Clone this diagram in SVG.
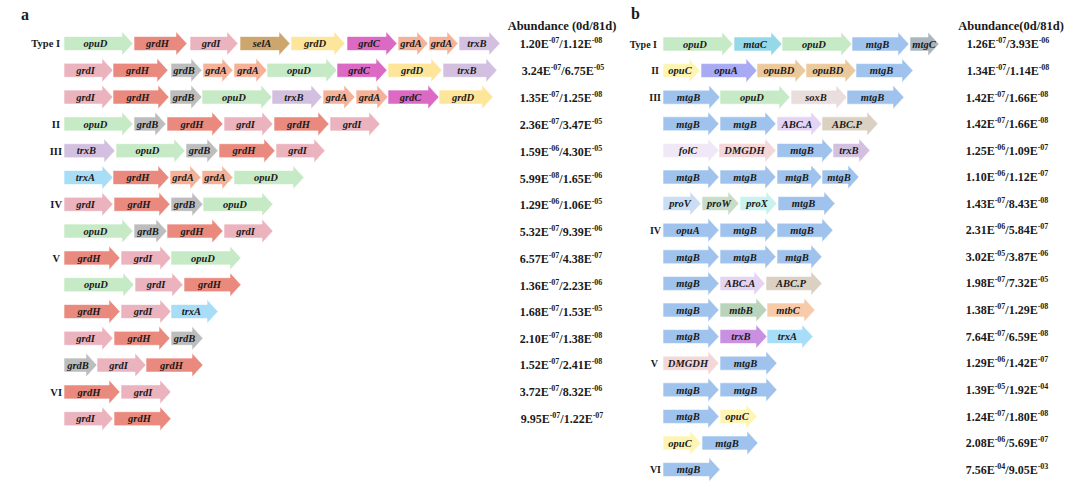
<svg xmlns="http://www.w3.org/2000/svg" width="1080" height="491" viewBox="0 0 1080 491">
<style>
text{font-family:"Liberation Serif","Times New Roman",serif;font-weight:bold;fill:#1a1a1a}
.g path{stroke:#fff;stroke-width:0.6}
.g text{font-style:italic;font-size:10.5px;text-anchor:middle}
.lab{font-size:10.5px;text-anchor:end}
.labb{font-size:10px;text-anchor:end}
.pan{font-size:16px}
.hd{font-size:12.5px;text-anchor:middle}
.v{font-size:12px;text-anchor:middle}
.s{font-size:8px}
.opuD{fill:#c6e9c6}.grdH{fill:#ea8a7e}.grdI{fill:#ebb3be}.selA{fill:#cda66e}.grdD{fill:#fde699}
.grdC{fill:#dc6ac4}.grdA{fill:#f5b299}.trxB{fill:#d3c0e0}.grdB{fill:#bdbdbd}.trxA{fill:#a8ddf8}
.mtaC{fill:#95d8e8}.mtgB{fill:#9fc3ec}.mtgC{fill:#a9b6c0}.opuC{fill:#fef5b4}.opuA{fill:#a8aaf3}
.opuBD{fill:#ecc99a}.soxB{fill:#eadddd}.abca{fill:#e5d3f3}.abcp{fill:#dbd1c2}.folC{fill:#f0e8f7}
.dmgdh{fill:#f3d7d9}.trxBb{fill:#c98fe0}.proV{fill:#c9ddf5}.proW{fill:#c8dcc8}.proX{fill:#c8f2ef}
.mtbB{fill:#bad4bb}.mtbC{fill:#f7caa9}
</style>
<text class="pan" x="21" y="20">a</text>
<text class="pan" x="631" y="19">b</text>
<text class="hd" x="562" y="30">Abundance (0d/81d)</text>
<text class="hd" x="1011" y="30">Abundance(0d/81d)</text>
<g id="labels-a">
<text class="lab" x="60" y="47">Type I</text>
<text class="lab" x="60" y="127.5">II</text>
<text class="lab" x="62" y="154.5">III</text>
<text class="lab" x="62" y="208">IV</text>
<text class="lab" x="60" y="261.5">V</text>
<text class="lab" x="62" y="395.5">VI</text>
</g>
<g id="labels-b">
<text class="labb" x="657" y="47.5">Type I</text>
<text class="labb" x="659" y="74">II</text>
<text class="labb" x="661" y="100.5">III</text>
<text class="labb" x="661" y="233.5">IV</text>
<text class="labb" x="658" y="366.5">V</text>
<text class="labb" x="661" y="473">VI</text>
</g>
<g id="connectors"></g>
<!-- Panel a -->
<g id="a0-1" class="g" transform="translate(64,43.5)"><path class="opuD" d="M0-7H58V-12L69 0L58 12V7H0Z"/><text x="31.5" y="3.7">opuD</text></g>
<g id="a0-2" class="g" transform="translate(134,43.5)"><path class="grdH" d="M0-7H42V-12L53 0L42 12V7H0Z"/><text x="23.5" y="3.7">grdH</text></g>
<g id="a0-3" class="g" transform="translate(190,43.5)"><path class="grdI" d="M0-7H37V-12L48 0L37 12V7H0Z"/><text x="21" y="3.7">grdI</text></g>
<g id="a0-4" class="g" transform="translate(240,43.5)"><path class="selA" d="M0-7H39V-12L50 0L39 12V7H0Z"/><text x="22" y="3.7">selA</text></g>
<g id="a0-5" class="g" transform="translate(291,43.5)"><path class="grdD" d="M0-7H43V-12L54 0L43 12V7H0Z"/><text x="24" y="3.7">grdD</text></g>
<g id="a0-6" class="g" transform="translate(347,43.5)"><path class="grdC" d="M0-7H39V-12L50 0L39 12V7H0Z"/><text x="22" y="3.7">grdC</text></g>
<g id="a0-7" class="g" transform="translate(398,43.5)"><path class="grdA" d="M0-7H19V-12L30 0L19 12V7H0Z"/><text x="13" y="3.7">grdA</text></g>
<g id="a0-8" class="g" transform="translate(429,43.5)"><path class="grdA" d="M0-7H18V-12L29 0L18 12V7H0Z"/><text x="12.5" y="3.7">grdA</text></g>
<g id="a0-9" class="g" transform="translate(459,43.5)"><path class="trxB" d="M0-7H30V-12L41 0L30 12V7H0Z"/><text x="18" y="3.7">trxB</text></g>

<g id="a1-1" class="g" transform="translate(64,70.3)"><path class="grdI" d="M0-7H38V-12L49 0L38 12V7H0Z"/><text x="21.5" y="3.7">grdI</text></g>
<g id="a1-2" class="g" transform="translate(113,70.3)"><path class="grdH" d="M0-7H44V-12L55 0L44 12V7H0Z"/><text x="24.5" y="3.7">grdH</text></g>
<g id="a1-3" class="g" transform="translate(171,70.3)"><path class="grdB" d="M0-7H20V-12L31 0L20 12V7H0Z"/><text x="13" y="3.7">grdB</text></g>
<g id="a1-4" class="g" transform="translate(203,70.3)"><path class="grdA" d="M0-7H19V-12L30 0L19 12V7H0Z"/><text x="13" y="3.7">grdA</text></g>
<g id="a1-5" class="g" transform="translate(234,70.3)"><path class="grdA" d="M0-7H22V-12L33 0L22 12V7H0Z"/><text x="14" y="3.7">grdA</text></g>
<g id="a1-6" class="g" transform="translate(267,70.3)"><path class="opuD" d="M0-7H59V-12L70 0L59 12V7H0Z"/><text x="32" y="3.7">opuD</text></g>
<g id="a1-7" class="g" transform="translate(337,70.3)"><path class="grdC" d="M0-7H39V-12L50 0L39 12V7H0Z"/><text x="22" y="3.7">grdC</text></g>
<g id="a1-8" class="g" transform="translate(388,70.3)"><path class="grdD" d="M0-7H43V-12L54 0L43 12V7H0Z"/><text x="24" y="3.7">grdD</text></g>
<g id="a1-9" class="g" transform="translate(443,70.3)"><path class="trxB" d="M0-7H43V-12L54 0L43 12V7H0Z"/><text x="24" y="3.7">trxB</text></g>

<g id="a2-1" class="g" transform="translate(64,97.1)"><path class="grdI" d="M0-7H38V-12L49 0L38 12V7H0Z"/><text x="21.5" y="3.7">grdI</text></g>
<g id="a2-2" class="g" transform="translate(113,97.1)"><path class="grdH" d="M0-7H45V-12L56 0L45 12V7H0Z"/><text x="25" y="3.7">grdH</text></g>
<g id="a2-3" class="g" transform="translate(170,97.1)"><path class="grdB" d="M0-7H21V-12L32 0L21 12V7H0Z"/><text x="13.5" y="3.7">grdB</text></g>
<g id="a2-4" class="g" transform="translate(202,97.1)"><path class="opuD" d="M0-7H59V-12L70 0L59 12V7H0Z"/><text x="32" y="3.7">opuD</text></g>
<g id="a2-5" class="g" transform="translate(272,97.1)"><path class="trxB" d="M0-7H39V-12L50 0L39 12V7H0Z"/><text x="22" y="3.7">trxB</text></g>
<g id="a2-6" class="g" transform="translate(323,97.1)"><path class="grdA" d="M0-7H21V-12L32 0L21 12V7H0Z"/><text x="13.5" y="3.7">grdA</text></g>
<g id="a2-7" class="g" transform="translate(356,97.1)"><path class="grdA" d="M0-7H21V-12L32 0L21 12V7H0Z"/><text x="13.5" y="3.7">grdA</text></g>
<g id="a2-8" class="g" transform="translate(388,97.1)"><path class="grdC" d="M0-7H40V-12L51 0L40 12V7H0Z"/><text x="22.5" y="3.7">grdC</text></g>
<g id="a2-9" class="g" transform="translate(439,97.1)"><path class="grdD" d="M0-7H43V-12L54 0L43 12V7H0Z"/><text x="24" y="3.7">grdD</text></g>

<g id="a3-1" class="g" transform="translate(64,123.9)"><path class="opuD" d="M0-7H58V-12L69 0L58 12V7H0Z"/><text x="31.5" y="3.7">opuD</text></g>
<g id="a3-2" class="g" transform="translate(134,123.9)"><path class="grdB" d="M0-7H21V-12L32 0L21 12V7H0Z"/><text x="13.5" y="3.7">grdB</text></g>
<g id="a3-3" class="g" transform="translate(167,123.9)"><path class="grdH" d="M0-7H45V-12L56 0L45 12V7H0Z"/><text x="25" y="3.7">grdH</text></g>
<g id="a3-4" class="g" transform="translate(224,123.9)"><path class="grdI" d="M0-7H38V-12L49 0L38 12V7H0Z"/><text x="21.5" y="3.7">grdI</text></g>
<g id="a3-5" class="g" transform="translate(274,123.9)"><path class="grdH" d="M0-7H44V-12L55 0L44 12V7H0Z"/><text x="24.5" y="3.7">grdH</text></g>
<g id="a3-6" class="g" transform="translate(330,123.9)"><path class="grdI" d="M0-7H39V-12L50 0L39 12V7H0Z"/><text x="22" y="3.7">grdI</text></g>

<g id="a4-1" class="g" transform="translate(64,150.7)"><path class="trxB" d="M0-7H40V-12L51 0L40 12V7H0Z"/><text x="22.5" y="3.7">trxB</text></g>
<g id="a4-2" class="g" transform="translate(116,150.7)"><path class="opuD" d="M0-7H58V-12L69 0L58 12V7H0Z"/><text x="31.5" y="3.7">opuD</text></g>
<g id="a4-3" class="g" transform="translate(186,150.7)"><path class="grdB" d="M0-7H21V-12L32 0L21 12V7H0Z"/><text x="13.5" y="3.7">grdB</text></g>
<g id="a4-4" class="g" transform="translate(219,150.7)"><path class="grdH" d="M0-7H45V-12L56 0L45 12V7H0Z"/><text x="25" y="3.7">grdH</text></g>
<g id="a4-5" class="g" transform="translate(276,150.7)"><path class="grdI" d="M0-7H38V-12L49 0L38 12V7H0Z"/><text x="21.5" y="3.7">grdI</text></g>

<g id="a5-1" class="g" transform="translate(64,177.5)"><path class="trxA" d="M0-7H38V-12L49 0L38 12V7H0Z"/><text x="21.5" y="3.7">trxA</text></g>
<g id="a5-2" class="g" transform="translate(113,177.5)"><path class="grdH" d="M0-7H45V-12L56 0L45 12V7H0Z"/><text x="25" y="3.7">grdH</text></g>
<g id="a5-3" class="g" transform="translate(170,177.5)"><path class="grdA" d="M0-7H20V-12L31 0L20 12V7H0Z"/><text x="13" y="3.7">grdA</text></g>
<g id="a5-4" class="g" transform="translate(202,177.5)"><path class="grdA" d="M0-7H20V-12L31 0L20 12V7H0Z"/><text x="13" y="3.7">grdA</text></g>
<g id="a5-5" class="g" transform="translate(234,177.5)"><path class="opuD" d="M0-7H59V-12L70 0L59 12V7H0Z"/><text x="32" y="3.7">opuD</text></g>

<g id="a6-1" class="g" transform="translate(64,204.3)"><path class="grdI" d="M0-7H38V-12L49 0L38 12V7H0Z"/><text x="21.5" y="3.7">grdI</text></g>
<g id="a6-2" class="g" transform="translate(114,204.3)"><path class="grdH" d="M0-7H45V-12L56 0L45 12V7H0Z"/><text x="25" y="3.7">grdH</text></g>
<g id="a6-3" class="g" transform="translate(171,204.3)"><path class="grdB" d="M0-7H21V-12L32 0L21 12V7H0Z"/><text x="13.5" y="3.7">grdB</text></g>
<g id="a6-4" class="g" transform="translate(203,204.3)"><path class="opuD" d="M0-7H59V-12L70 0L59 12V7H0Z"/><text x="32" y="3.7">opuD</text></g>

<g id="a7-1" class="g" transform="translate(64,231.1)"><path class="opuD" d="M0-7H58V-12L69 0L58 12V7H0Z"/><text x="31.5" y="3.7">opuD</text></g>
<g id="a7-2" class="g" transform="translate(134,231.1)"><path class="grdB" d="M0-7H22V-12L33 0L22 12V7H0Z"/><text x="14" y="3.7">grdB</text></g>
<g id="a7-3" class="g" transform="translate(167,231.1)"><path class="grdH" d="M0-7H45V-12L56 0L45 12V7H0Z"/><text x="25" y="3.7">grdH</text></g>
<g id="a7-4" class="g" transform="translate(224,231.1)"><path class="grdI" d="M0-7H38V-12L49 0L38 12V7H0Z"/><text x="21.5" y="3.7">grdI</text></g>

<g id="a8-1" class="g" transform="translate(64,257.9)"><path class="grdH" d="M0-7H45V-12L56 0L45 12V7H0Z"/><text x="25" y="3.7">grdH</text></g>
<g id="a8-2" class="g" transform="translate(121,257.9)"><path class="grdI" d="M0-7H39V-12L50 0L39 12V7H0Z"/><text x="22" y="3.7">grdI</text></g>
<g id="a8-3" class="g" transform="translate(171,257.9)"><path class="opuD" d="M0-7H59V-12L70 0L59 12V7H0Z"/><text x="32" y="3.7">opuD</text></g>

<g id="a9-1" class="g" transform="translate(64,284.7)"><path class="opuD" d="M0-7H59V-12L70 0L59 12V7H0Z"/><text x="32" y="3.7">opuD</text></g>
<g id="a9-2" class="g" transform="translate(135,284.7)"><path class="grdI" d="M0-7H37V-12L48 0L37 12V7H0Z"/><text x="21" y="3.7">grdI</text></g>
<g id="a9-3" class="g" transform="translate(184,284.7)"><path class="grdH" d="M0-7H46V-12L57 0L46 12V7H0Z"/><text x="25.5" y="3.7">grdH</text></g>

<g id="a10-1" class="g" transform="translate(64,311.5)"><path class="grdH" d="M0-7H45V-12L56 0L45 12V7H0Z"/><text x="25" y="3.7">grdH</text></g>
<g id="a10-2" class="g" transform="translate(121,311.5)"><path class="grdI" d="M0-7H39V-12L50 0L39 12V7H0Z"/><text x="22" y="3.7">grdI</text></g>
<g id="a10-3" class="g" transform="translate(171,311.5)"><path class="trxA" d="M0-7H36V-12L47 0L36 12V7H0Z"/><text x="20.5" y="3.7">trxA</text></g>

<g id="a11-1" class="g" transform="translate(64,338.3)"><path class="grdI" d="M0-7H38V-12L49 0L38 12V7H0Z"/><text x="21.5" y="3.7">grdI</text></g>
<g id="a11-2" class="g" transform="translate(114,338.3)"><path class="grdH" d="M0-7H45V-12L56 0L45 12V7H0Z"/><text x="25" y="3.7">grdH</text></g>
<g id="a11-3" class="g" transform="translate(171,338.3)"><path class="grdB" d="M0-7H21V-12L32 0L21 12V7H0Z"/><text x="13.5" y="3.7">grdB</text></g>

<g id="a12-1" class="g" transform="translate(64,365.1)"><path class="grdB" d="M0-7H22V-12L33 0L22 12V7H0Z"/><text x="14" y="3.7">grdB</text></g>
<g id="a12-2" class="g" transform="translate(97,365.1)"><path class="grdI" d="M0-7H38V-12L49 0L38 12V7H0Z"/><text x="21.5" y="3.7">grdI</text></g>
<g id="a12-3" class="g" transform="translate(146,365.1)"><path class="grdH" d="M0-7H46V-12L57 0L46 12V7H0Z"/><text x="25.5" y="3.7">grdH</text></g>

<g id="a13-1" class="g" transform="translate(64,391.9)"><path class="grdH" d="M0-7H45V-12L56 0L45 12V7H0Z"/><text x="25" y="3.7">grdH</text></g>
<g id="a13-2" class="g" transform="translate(121,391.9)"><path class="grdI" d="M0-7H39V-12L50 0L39 12V7H0Z"/><text x="22" y="3.7">grdI</text></g>

<g id="a14-1" class="g" transform="translate(64,418.7)"><path class="grdI" d="M0-7H38V-12L49 0L38 12V7H0Z"/><text x="21.5" y="3.7">grdI</text></g>
<g id="a14-2" class="g" transform="translate(114,418.7)"><path class="grdH" d="M0-7H46V-12L57 0L46 12V7H0Z"/><text x="25.5" y="3.7">grdH</text></g>

<!-- Panel b -->
<g id="b0-1" class="g" transform="translate(663,44)"><path class="opuD" d="M0-7H59V-12L70 0L59 12V7H0Z"/><text x="32" y="3.7">opuD</text></g>
<g id="b0-2" class="g" transform="translate(734,44)"><path class="mtaC" d="M0-7H37V-12L48 0L37 12V7H0Z"/><text x="21" y="3.7">mtaC</text></g>
<g id="b0-3" class="g" transform="translate(782,44)"><path class="opuD" d="M0-7H59V-12L70 0L59 12V7H0Z"/><text x="32" y="3.7">opuD</text></g>
<g id="b0-4" class="g" transform="translate(852,44)"><path class="mtgB" d="M0-7H46V-12L57 0L46 12V7H0Z"/><text x="25.5" y="3.7">mtgB</text></g>
<g id="b0-5" class="g" transform="translate(910,44)"><path class="mtgC" d="M0-7H18V-12L29 0L18 12V7H0Z"/><text x="14" y="3.7">mtgC</text></g>

<g id="b1-1" class="g" transform="translate(663,70.6)"><path class="opuC" d="M0-7H26V-12L37 0L26 12V7H0Z"/><text x="17" y="3.7">opuC</text></g>
<g id="b1-2" class="g" transform="translate(701,70.6)"><path class="opuA" d="M0-7H45V-12L56 0L45 12V7H0Z"/><text x="25" y="3.7">opuA</text></g>
<g id="b1-3" class="g" transform="translate(757,70.6)"><path class="opuBD" d="M0-7H38V-12L49 0L38 12V7H0Z"/><text x="22" y="3.7">opuBD</text></g>
<g id="b1-4" class="g" transform="translate(806,70.6)"><path class="opuBD" d="M0-7H39V-12L50 0L39 12V7H0Z"/><text x="22" y="3.7">opuBD</text></g>
<g id="b1-5" class="g" transform="translate(856,70.6)"><path class="mtgB" d="M0-7H46V-12L57 0L46 12V7H0Z"/><text x="25.5" y="3.7">mtgB</text></g>

<g id="b2-1" class="g" transform="translate(663,97.2)"><path class="mtgB" d="M0-7H46V-12L57 0L46 12V7H0Z"/><text x="25.5" y="3.7">mtgB</text></g>
<g id="b2-2" class="g" transform="translate(720,97.2)"><path class="opuD" d="M0-7H59V-12L70 0L59 12V7H0Z"/><text x="32" y="3.7">opuD</text></g>
<g id="b2-3" class="g" transform="translate(791,97.2)"><path class="soxB" d="M0-7H45V-12L56 0L45 12V7H0Z"/><text x="25" y="3.7">soxB</text></g>
<g id="b2-4" class="g" transform="translate(847,97.2)"><path class="mtgB" d="M0-7H46V-12L57 0L46 12V7H0Z"/><text x="25.5" y="3.7">mtgB</text></g>

<g id="b3-1" class="g" transform="translate(663,123.8)"><path class="mtgB" d="M0-7H45V-12L56 0L45 12V7H0Z"/><text x="25" y="3.7">mtgB</text></g>
<g id="b3-2" class="g" transform="translate(720,123.8)"><path class="mtgB" d="M0-7H45V-12L56 0L45 12V7H0Z"/><text x="25" y="3.7">mtgB</text></g>
<g id="b3-3" class="g" transform="translate(777,123.8)"><path class="abca" d="M0-7H34V-12L45 0L34 12V7H0Z"/><text x="20" y="3.7">ABC.A</text></g>
<g id="b3-4" class="g" transform="translate(822,123.8)"><path class="abcp" d="M0-7H45V-12L56 0L45 12V7H0Z"/><text x="25" y="3.7">ABC.P</text></g>

<g id="b4-1" class="g" transform="translate(663,150.4)"><path class="folC" d="M0-7H45V-12L56 0L45 12V7H0Z"/><text x="25" y="3.7">folC</text></g>
<g id="b4-2" class="g" transform="translate(719,150.4)"><path class="dmgdh" d="M0-7H46V-12L57 0L46 12V7H0Z"/><text x="25.5" y="3.7">DMGDH</text></g>
<g id="b4-3" class="g" transform="translate(777,150.4)"><path class="mtgB" d="M0-7H45V-12L56 0L45 12V7H0Z"/><text x="25" y="3.7">mtgB</text></g>
<g id="b4-4" class="g" transform="translate(833,150.4)"><path class="trxB" d="M0-7H26V-12L37 0L26 12V7H0Z"/><text x="16" y="3.7">trxB</text></g>

<g id="b5-1" class="g" transform="translate(663,177)"><path class="mtgB" d="M0-7H45V-12L56 0L45 12V7H0Z"/><text x="25" y="3.7">mtgB</text></g>
<g id="b5-2" class="g" transform="translate(720,177)"><path class="mtgB" d="M0-7H45V-12L56 0L45 12V7H0Z"/><text x="25" y="3.7">mtgB</text></g>
<g id="b5-3" class="g" transform="translate(777,177)"><path class="mtgB" d="M0-7H34V-12L45 0L34 12V7H0Z"/><text x="20" y="3.7">mtgB</text></g>
<g id="b5-4" class="g" transform="translate(822,177)"><path class="mtgB" d="M0-7H26V-12L37 0L26 12V7H0Z"/><text x="17" y="3.7">mtgB</text></g>

<g id="b6-1" class="g" transform="translate(663,203.6)"><path class="proV" d="M0-7H27V-12L38 0L27 12V7H0Z"/><text x="17" y="3.7">proV</text></g>
<g id="b6-2" class="g" transform="translate(702,203.6)"><path class="proW" d="M0-7H26V-12L37 0L26 12V7H0Z"/><text x="17" y="3.7">proW</text></g>
<g id="b6-3" class="g" transform="translate(740,203.6)"><path class="proX" d="M0-7H26V-12L37 0L26 12V7H0Z"/><text x="17" y="3.7">proX</text></g>
<g id="b6-4" class="g" transform="translate(778,203.6)"><path class="mtgB" d="M0-7H46V-12L57 0L46 12V7H0Z"/><text x="25.5" y="3.7">mtgB</text></g>

<g id="b7-1" class="g" transform="translate(663,230.2)"><path class="mtgB" d="M0-7H45V-12L56 0L45 12V7H0Z"/><text x="25" y="3.7">opuA</text></g>
<g id="b7-2" class="g" transform="translate(720,230.2)"><path class="mtgB" d="M0-7H45V-12L56 0L45 12V7H0Z"/><text x="25" y="3.7">mtgB</text></g>
<g id="b7-3" class="g" transform="translate(777,230.2)"><path class="mtgB" d="M0-7H45V-12L56 0L45 12V7H0Z"/><text x="25" y="3.7">mtgB</text></g>

<g id="b8-1" class="g" transform="translate(663,256.8)"><path class="mtgB" d="M0-7H45V-12L56 0L45 12V7H0Z"/><text x="25" y="3.7">mtgB</text></g>
<g id="b8-2" class="g" transform="translate(720,256.8)"><path class="mtgB" d="M0-7H45V-12L56 0L45 12V7H0Z"/><text x="25" y="3.7">mtgB</text></g>
<g id="b8-3" class="g" transform="translate(777,256.8)"><path class="mtgB" d="M0-7H34V-12L45 0L34 12V7H0Z"/><text x="20" y="3.7">mtgB</text></g>

<g id="b9-1" class="g" transform="translate(663,283.4)"><path class="mtgB" d="M0-7H45V-12L56 0L45 12V7H0Z"/><text x="25" y="3.7">mtgB</text></g>
<g id="b9-2" class="g" transform="translate(720,283.4)"><path class="abca" d="M0-7H34V-12L45 0L34 12V7H0Z"/><text x="20" y="3.7">ABC.A</text></g>
<g id="b9-3" class="g" transform="translate(766,283.4)"><path class="abcp" d="M0-7H45V-12L56 0L45 12V7H0Z"/><text x="25" y="3.7">ABC.P</text></g>

<g id="b10-1" class="g" transform="translate(663,310)"><path class="mtgB" d="M0-7H45V-12L56 0L45 12V7H0Z"/><text x="25" y="3.7">mtgB</text></g>
<g id="b10-2" class="g" transform="translate(720,310)"><path class="mtbB" d="M0-7H36V-12L47 0L36 12V7H0Z"/><text x="21" y="3.7">mtbB</text></g>
<g id="b10-3" class="g" transform="translate(767,310)"><path class="mtbC" d="M0-7H37V-12L48 0L37 12V7H0Z"/><text x="21" y="3.7">mtbC</text></g>

<g id="b11-1" class="g" transform="translate(663,336.6)"><path class="mtgB" d="M0-7H45V-12L56 0L45 12V7H0Z"/><text x="25" y="3.7">mtgB</text></g>
<g id="b11-2" class="g" transform="translate(720,336.6)"><path class="trxBb" d="M0-7H36V-12L47 0L36 12V7H0Z"/><text x="21" y="3.7">trxB</text></g>
<g id="b11-3" class="g" transform="translate(767,336.6)"><path class="trxA" d="M0-7H35V-12L46 0L35 12V7H0Z"/><text x="20.5" y="3.7">trxA</text></g>

<g id="b12-1" class="g" transform="translate(663,363.2)"><path class="dmgdh" d="M0-7H45V-12L56 0L45 12V7H0Z"/><text x="25" y="3.7">DMGDH</text></g>
<g id="b12-2" class="g" transform="translate(720,363.2)"><path class="mtgB" d="M0-7H46V-12L57 0L46 12V7H0Z"/><text x="25.5" y="3.7">mtgB</text></g>

<g id="b13-1" class="g" transform="translate(663,389.8)"><path class="mtgB" d="M0-7H45V-12L56 0L45 12V7H0Z"/><text x="25" y="3.7">mtgB</text></g>
<g id="b13-2" class="g" transform="translate(720,389.8)"><path class="mtgB" d="M0-7H46V-12L57 0L46 12V7H0Z"/><text x="25.5" y="3.7">mtgB</text></g>

<g id="b14-1" class="g" transform="translate(663,416.4)"><path class="mtgB" d="M0-7H45V-12L56 0L45 12V7H0Z"/><text x="25" y="3.7">mtgB</text></g>
<g id="b14-2" class="g" transform="translate(720,416.4)"><path class="opuC" d="M0-7H26V-12L37 0L26 12V7H0Z"/><text x="17" y="3.7">opuC</text></g>

<g id="b15-1" class="g" transform="translate(663,443)"><path class="opuC" d="M0-7H27V-12L38 0L27 12V7H0Z"/><text x="17" y="3.7">opuC</text></g>
<g id="b15-2" class="g" transform="translate(702,443)"><path class="mtgB" d="M0-7H45V-12L56 0L45 12V7H0Z"/><text x="25" y="3.7">mtgB</text></g>

<g id="b16-1" class="g" transform="translate(663,469.6)"><path class="mtgB" d="M0-7H46V-12L57 0L46 12V7H0Z"/><text x="25.5" y="3.7">mtgB</text></g>

<!-- Abundance values panel a -->
<g id="values-a">
<text class="v" x="561" y="48">1.20E<tspan class="s" dy="-5">-07</tspan><tspan dy="5">/1.12E</tspan><tspan class="s" dy="-5">-08</tspan></text>
<text class="v" x="563" y="75">3.24E<tspan class="s" dy="-5">-07</tspan><tspan dy="5">/6.75E</tspan><tspan class="s" dy="-5">-05</tspan></text>
<text class="v" x="561" y="102">1.35E<tspan class="s" dy="-5">-07</tspan><tspan dy="5">/1.25E</tspan><tspan class="s" dy="-5">-08</tspan></text>
<text class="v" x="561" y="129">2.36E<tspan class="s" dy="-5">-07</tspan><tspan dy="5">/3.47E</tspan><tspan class="s" dy="-5">-05</tspan></text>
<text class="v" x="561" y="156">1.59E<tspan class="s" dy="-5">-06</tspan><tspan dy="5">/4.30E</tspan><tspan class="s" dy="-5">-05</tspan></text>
<text class="v" x="561" y="183">5.99E<tspan class="s" dy="-5">-08</tspan><tspan dy="5">/1.65E</tspan><tspan class="s" dy="-5">-06</tspan></text>
<text class="v" x="561" y="209">1.29E<tspan class="s" dy="-5">-06</tspan><tspan dy="5">/1.06E</tspan><tspan class="s" dy="-5">-05</tspan></text>
<text class="v" x="561" y="236">5.32E<tspan class="s" dy="-5">-07</tspan><tspan dy="5">/9.39E</tspan><tspan class="s" dy="-5">-06</tspan></text>
<text class="v" x="561" y="263">6.57E<tspan class="s" dy="-5">-07</tspan><tspan dy="5">/4.38E</tspan><tspan class="s" dy="-5">-07</tspan></text>
<text class="v" x="561" y="290">1.36E<tspan class="s" dy="-5">-07</tspan><tspan dy="5">/2.23E</tspan><tspan class="s" dy="-5">-06</tspan></text>
<text class="v" x="561" y="316">1.68E<tspan class="s" dy="-5">-07</tspan><tspan dy="5">/1.53E</tspan><tspan class="s" dy="-5">-05</tspan></text>
<text class="v" x="561" y="343">2.10E<tspan class="s" dy="-5">-07</tspan><tspan dy="5">/1.38E</tspan><tspan class="s" dy="-5">-08</tspan></text>
<text class="v" x="561" y="369">1.52E<tspan class="s" dy="-5">-07</tspan><tspan dy="5">/2.41E</tspan><tspan class="s" dy="-5">-08</tspan></text>
<text class="v" x="561" y="396">3.72E<tspan class="s" dy="-5">-07</tspan><tspan dy="5">/8.32E</tspan><tspan class="s" dy="-5">-06</tspan></text>
<text class="v" x="562" y="423">9.95E<tspan class="s" dy="-5">-07</tspan><tspan dy="5">/1.22E</tspan><tspan class="s" dy="-5">-07</tspan></text>
</g>
<!-- Abundance values panel b -->
<g id="values-b">
<text class="v" x="1008" y="48">1.26E<tspan class="s" dy="-5">-07</tspan><tspan dy="5">/3.93E</tspan><tspan class="s" dy="-5">-06</tspan></text>
<text class="v" x="1008" y="75">1.34E<tspan class="s" dy="-5">-07</tspan><tspan dy="5">/1.14E</tspan><tspan class="s" dy="-5">-08</tspan></text>
<text class="v" x="1007" y="102">1.42E<tspan class="s" dy="-5">-07</tspan><tspan dy="5">/1.66E</tspan><tspan class="s" dy="-5">-08</tspan></text>
<text class="v" x="1007" y="128">1.42E<tspan class="s" dy="-5">-07</tspan><tspan dy="5">/1.66E</tspan><tspan class="s" dy="-5">-08</tspan></text>
<text class="v" x="1007" y="155">1.25E<tspan class="s" dy="-5">-06</tspan><tspan dy="5">/1.09E</tspan><tspan class="s" dy="-5">-07</tspan></text>
<text class="v" x="1007" y="181">1.10E<tspan class="s" dy="-5">-06</tspan><tspan dy="5">/1.12E</tspan><tspan class="s" dy="-5">-07</tspan></text>
<text class="v" x="1007" y="208">1.43E<tspan class="s" dy="-5">-07</tspan><tspan dy="5">/8.43E</tspan><tspan class="s" dy="-5">-08</tspan></text>
<text class="v" x="1007" y="234">2.31E<tspan class="s" dy="-5">-06</tspan><tspan dy="5">/5.84E</tspan><tspan class="s" dy="-5">-07</tspan></text>
<text class="v" x="1007" y="261">3.02E<tspan class="s" dy="-5">-05</tspan><tspan dy="5">/3.87E</tspan><tspan class="s" dy="-5">-06</tspan></text>
<text class="v" x="1007" y="287">1.98E<tspan class="s" dy="-5">-07</tspan><tspan dy="5">/7.32E</tspan><tspan class="s" dy="-5">-05</tspan></text>
<text class="v" x="1007" y="314">1.38E<tspan class="s" dy="-5">-07</tspan><tspan dy="5">/1.29E</tspan><tspan class="s" dy="-5">-08</tspan></text>
<text class="v" x="1007" y="341">7.64E<tspan class="s" dy="-5">-07</tspan><tspan dy="5">/6.59E</tspan><tspan class="s" dy="-5">-08</tspan></text>
<text class="v" x="1007" y="367">1.29E<tspan class="s" dy="-5">-06</tspan><tspan dy="5">/1.42E</tspan><tspan class="s" dy="-5">-07</tspan></text>
<text class="v" x="1007" y="394">1.39E<tspan class="s" dy="-5">-05</tspan><tspan dy="5">/1.92E</tspan><tspan class="s" dy="-5">-04</tspan></text>
<text class="v" x="1007" y="421">1.24E<tspan class="s" dy="-5">-07</tspan><tspan dy="5">/1.80E</tspan><tspan class="s" dy="-5">-08</tspan></text>
<text class="v" x="1007" y="447">2.08E<tspan class="s" dy="-5">-06</tspan><tspan dy="5">/5.69E</tspan><tspan class="s" dy="-5">-07</tspan></text>
<text class="v" x="1007" y="474">7.56E<tspan class="s" dy="-5">-04</tspan><tspan dy="5">/9.05E</tspan><tspan class="s" dy="-5">-03</tspan></text>
</g>
</svg>
